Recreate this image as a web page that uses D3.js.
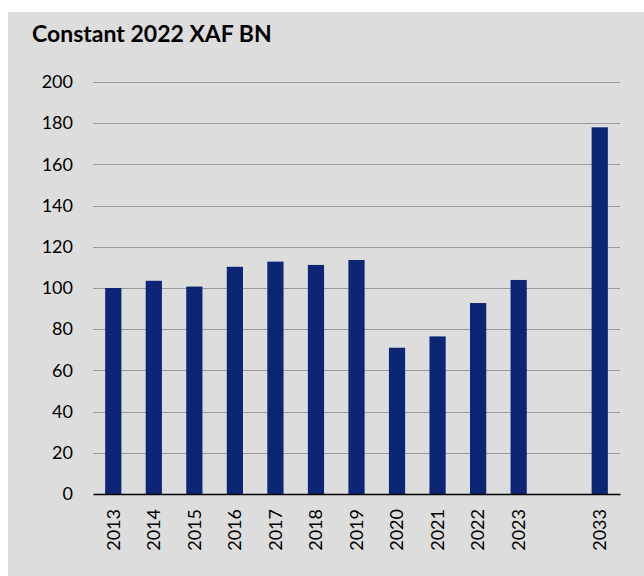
<!DOCTYPE html>
<html>
<head>
<meta charset="utf-8">
<script src="https://cdn.jsdelivr.net/npm/d3@7"></script>
<style>
  body { margin: 0; background: #ffffff; }
  svg { display: block; }
</style>
</head>
<body>
<div id="chart"></div>
<script>
// years on the x axis, with one empty slot between 2023 and 2033
var years = ["2013", "2014", "2015", "2016", "2017", "2018", "2019", "2020", "2021", "2022", "2023", "", "2033"];
var values = [100, 103.5, 100.7, 110.3, 112.8, 111.2, 113.6, 71, 76.5, 92.7, 103.9, null, 178];
var yTicks = [0, 20, 40, 60, 80, 100, 120, 140, 160, 180, 200];

var width = 644, height = 576;
var margin = {top: 82, right: 24, bottom: 82, left: 93};
var w = width - margin.left - margin.right,
	h = height - margin.top - margin.bottom;

var svg = d3.select("#chart").append("svg")
	.attr("width", width)
	.attr("height", height);

svg.append("rect")
	.attr("x", 8)
	.attr("y", 12)
	.attr("width", width - 8)
	.attr("height", height - 12)
	.attr("fill", "#dddddd");

svg.append("text")
	.attr("x", 32)
	.attr("y", 42)
	.text("Constant 2022 XAF BN")
	.attr("font-family", "Lato, 'Open Sans', sans-serif")
	.attr("font-weight", "bold")
	.attr("font-size", 23)
	.attr("fill", "#000");

var g = svg.append("g")
	.attr("transform", "translate(" + margin.left + "," + margin.top + ")");

var xScale = d3.scaleBand()
	.domain(d3.range(years.length))
	.range([0, w])
	.paddingInner(0.6)
	.paddingOuter(0.3);

var yScale = d3.scaleLinear()
	.domain([0, 200])
	.range([h, 0]);

// gridlines
g.append("g")
	.selectAll("line")
	.data(yTicks.filter(function(d) { return d > 0; }))
	.enter()
	.append("line")
	.attr("x1", 0)
	.attr("x2", w)
	.attr("y1", function(d) { return Math.round(yScale(d)) + 0.5; })
	.attr("y2", function(d) { return Math.round(yScale(d)) + 0.5; })
	.attr("stroke", "#9a9a9a")
	.attr("stroke-width", 1);

// y axis labels
var yaxis = d3.axisLeft()
	.scale(yScale)
	.tickValues(yTicks)
	.tickSize(0)
	.tickPadding(20);

g.append("g")
	.call(yaxis)
	.call(function(sel) {
		sel.select(".domain").remove();
		sel.selectAll("text")
			.attr("font-family", "Lato, 'Open Sans', sans-serif")
			.attr("font-size", 18)
			.attr("fill", "#000");
	});

// bars
g.append("g")
	.selectAll("rect")
	.data(values.map(function(v, i) { return {i: i, v: v}; }).filter(function(d) { return d.v != null; }))
	.enter()
	.append("rect")
	.attr("x", function(d) { return xScale(d.i); })
	.attr("y", function(d) { return yScale(d.v); })
	.attr("width", xScale.bandwidth())
	.attr("height", function(d) { return h - yScale(d.v); })
	.attr("fill", "#0c2574");

// x axis
var xaxis = d3.axisBottom()
	.scale(xScale)
	.tickSize(0)
	.tickFormat(function(d) { return years[d]; });

var xg = g.append("g")
	.attr("transform", "translate(0," + h + ")")
	.call(xaxis);

xg.select(".domain")
	.attr("stroke", "#000")
	.attr("stroke-width", 1.5);

xg.selectAll("text")
	.attr("font-family", "Lato, 'Open Sans', sans-serif")
	.attr("font-size", 18)
	.attr("fill", "#000")
	.attr("transform", "rotate(-90)")
	.attr("text-anchor", "end")
	.attr("x", -15)
	.attr("y", 0)
	.attr("dy", "0.35em");
</script>
</body>
</html>
